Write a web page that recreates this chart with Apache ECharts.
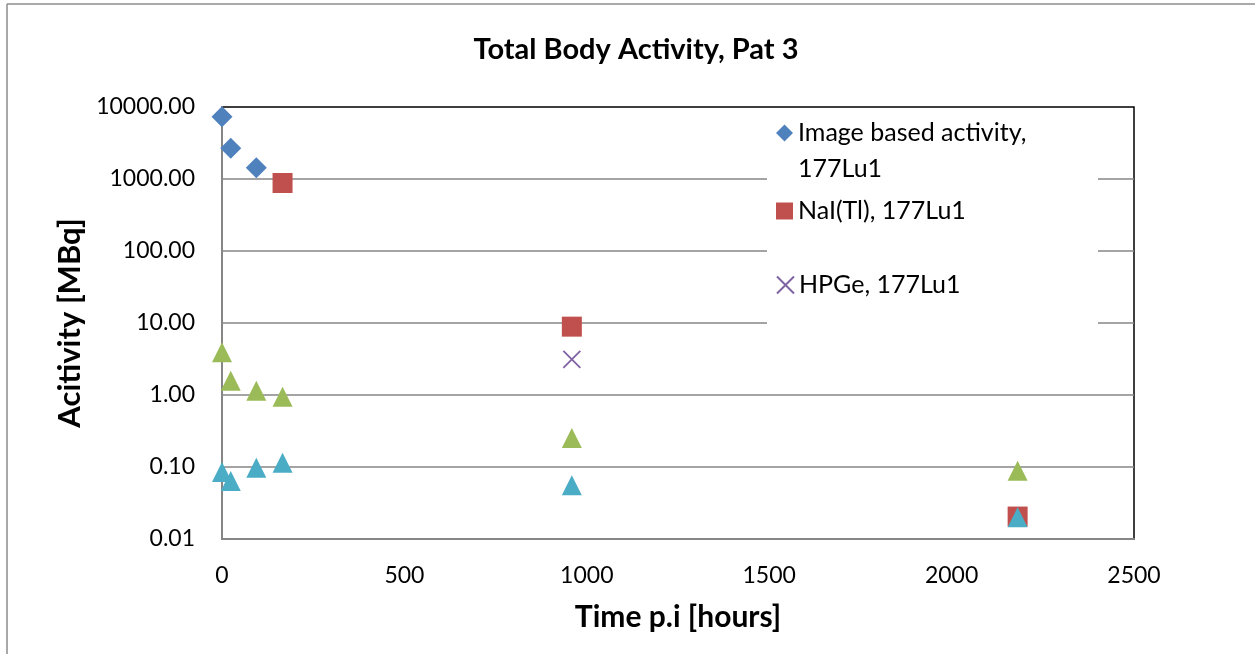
<!DOCTYPE html>
<html>
<head>
<meta charset="utf-8">
<script src="https://cdn.jsdelivr.net/npm/echarts@6/dist/echarts.min.js"></script>
<style>
  html, body { margin: 0; padding: 0; background: #fff; }
  #chart { width: 1255px; height: 654px; }
</style>
</head>
<body>
<div id="chart"></div>
<script>
// Sampling times post injection [hours]
const timesImage = [0, 24, 94];
const timesAll = [0, 24, 94, 166, 959, 2181];
const timesNaI = [166, 959, 2181];
const timesHPGe = [959];

// Activities [MBq]
const imageBased = [7300, 2670, 1435];
const naITl = [880, 8.9, 0.0205];
const hpge = [3.13];
const greenSeries = [3.92, 1.58, 1.15, 0.946, 0.253, 0.089];
const cyanSeries = [0.085, 0.064, 0.098, 0.115, 0.056, 0.020];

// Axis ticks
const xTicks = [0, 500, 1000, 1500, 2000, 2500];
const yTicks = [0.01, 0.1, 1, 10, 100, 1000, 10000];

const FONT = 'Lato';
const pairs = (xs, ys) => xs.map((x, i) => [x, ys[i]]);
const CROSS = 'path://M0,0L10,10M10,0L0,10';

const chart = echarts.init(document.getElementById('chart'), null, { renderer: 'canvas' });

const legendBase = {
  orient: 'vertical',
  left: 776,
  padding: 0,
  itemGap: 0,
  itemWidth: 17,
  itemHeight: 17,
  textStyle: { fontFamily: FONT, fontSize: 25, color: '#000', lineHeight: 34 }
};

chart.setOption({
  backgroundColor: '#fff',
  animation: false,
  title: {
    text: 'Total Body Activity, Pat 3',
    left: 631,
    textAlign: 'center',
    top: 30,
    textStyle: { fontFamily: FONT, fontSize: 29, fontWeight: 'bold', color: '#000' }
  },
  graphic: [
    // outer chart frame
    { type: 'line', shape: { x1: 7, y1: 4, x2: 1255, y2: 4 }, style: { stroke: '#8c8c8c', lineWidth: 1.5 }, z: 10 },
    { type: 'line', shape: { x1: 7, y1: 4, x2: 7, y2: 654 }, style: { stroke: '#8c8c8c', lineWidth: 1.5 }, z: 10 },
    // legend background
    { type: 'rect', shape: { x: 767, y: 108, width: 331, height: 226 }, style: { fill: '#fff' }, z: 1 }
  ],
  legend: [
    Object.assign({}, legendBase, {
      top: 79,
      data: ['Image based activity,\n177Lu1'],
      textStyle: Object.assign({}, legendBase.textStyle, { lineHeight: 36 }),
      // leading blank line keeps the marker level with the first text line
      formatter: n => '\n' + n
    }),
    Object.assign({}, legendBase, { top: 194, data: ['NaI(Tl), 177Lu1'] }),
    Object.assign({}, legendBase, { top: 268, data: ['HPGe, 177Lu1'] })
  ],
  grid: {
    left: 222, right: 121, top: 107, bottom: 115,
    show: true, borderColor: '#000', borderWidth: 1.5, backgroundColor: 'transparent'
  },
  xAxis: {
    type: 'value',
    min: xTicks[0], max: xTicks[xTicks.length - 1], interval: 500,
    name: 'Time p.i [hours]',
    nameLocation: 'middle',
    nameGap: 63,
    nameTextStyle: { fontFamily: FONT, fontSize: 30, fontWeight: 'bold', color: '#000' },
    axisLine: { show: true, lineStyle: { color: '#868686', width: 2 } },
    axisTick: { show: false },
    splitLine: { show: false },
    axisLabel: { fontFamily: FONT, fontSize: 23, color: '#000', margin: 25, formatter: v => String(v) }
  },
  yAxis: {
    type: 'log',
    logBase: 10,
    min: yTicks[0], max: yTicks[yTicks.length - 1], interval: 1,
    name: 'Acitivity [MBq]',
    nameLocation: 'middle',
    nameGap: 137,
    nameTextStyle: { fontFamily: FONT, fontSize: 31, fontWeight: 'bold', color: '#000' },
    axisLine: { show: true, lineStyle: { color: '#868686', width: 2 } },
    axisTick: { show: false },
    splitLine: { show: true, showMinLine: false, showMaxLine: false, lineStyle: { color: '#868686', width: 1.5 } },
    axisLabel: {
      fontFamily: FONT, fontSize: 23, color: '#000', margin: 27,
      formatter: v => Number(v).toFixed(2)
    }
  },
  series: [
    {
      name: 'Image based activity,\n177Lu1', type: 'scatter', symbol: 'diamond', symbolSize: 21,
      itemStyle: { color: '#4F81BD', opacity: 1 }, data: pairs(timesImage, imageBased), z: 3
    },
    {
      name: 'NaI(Tl), 177Lu1', type: 'scatter', symbol: 'rect', symbolSize: 20,
      itemStyle: { color: '#C0504D', opacity: 1 }, data: pairs(timesNaI, naITl), z: 3
    },
    {
      name: 'HPGe, 177Lu1', type: 'scatter', symbol: CROSS, symbolSize: 17,
      itemStyle: { color: 'rgba(0,0,0,0)', borderColor: '#8064A2', borderWidth: 1.8, opacity: 1 },
      data: pairs(timesHPGe, hpge), z: 3
    },
    {
      name: 'green', type: 'scatter', symbol: 'triangle', symbolSize: [20, 20],
      itemStyle: { color: '#9BBB59', opacity: 1 }, data: pairs(timesAll, greenSeries), z: 3
    },
    {
      name: 'cyan', type: 'scatter', symbol: 'triangle', symbolSize: [20, 20],
      itemStyle: { color: '#4BACC6', opacity: 1 }, data: pairs(timesAll, cyanSeries), z: 3
    }
  ]
});
</script>
</body>
</html>
